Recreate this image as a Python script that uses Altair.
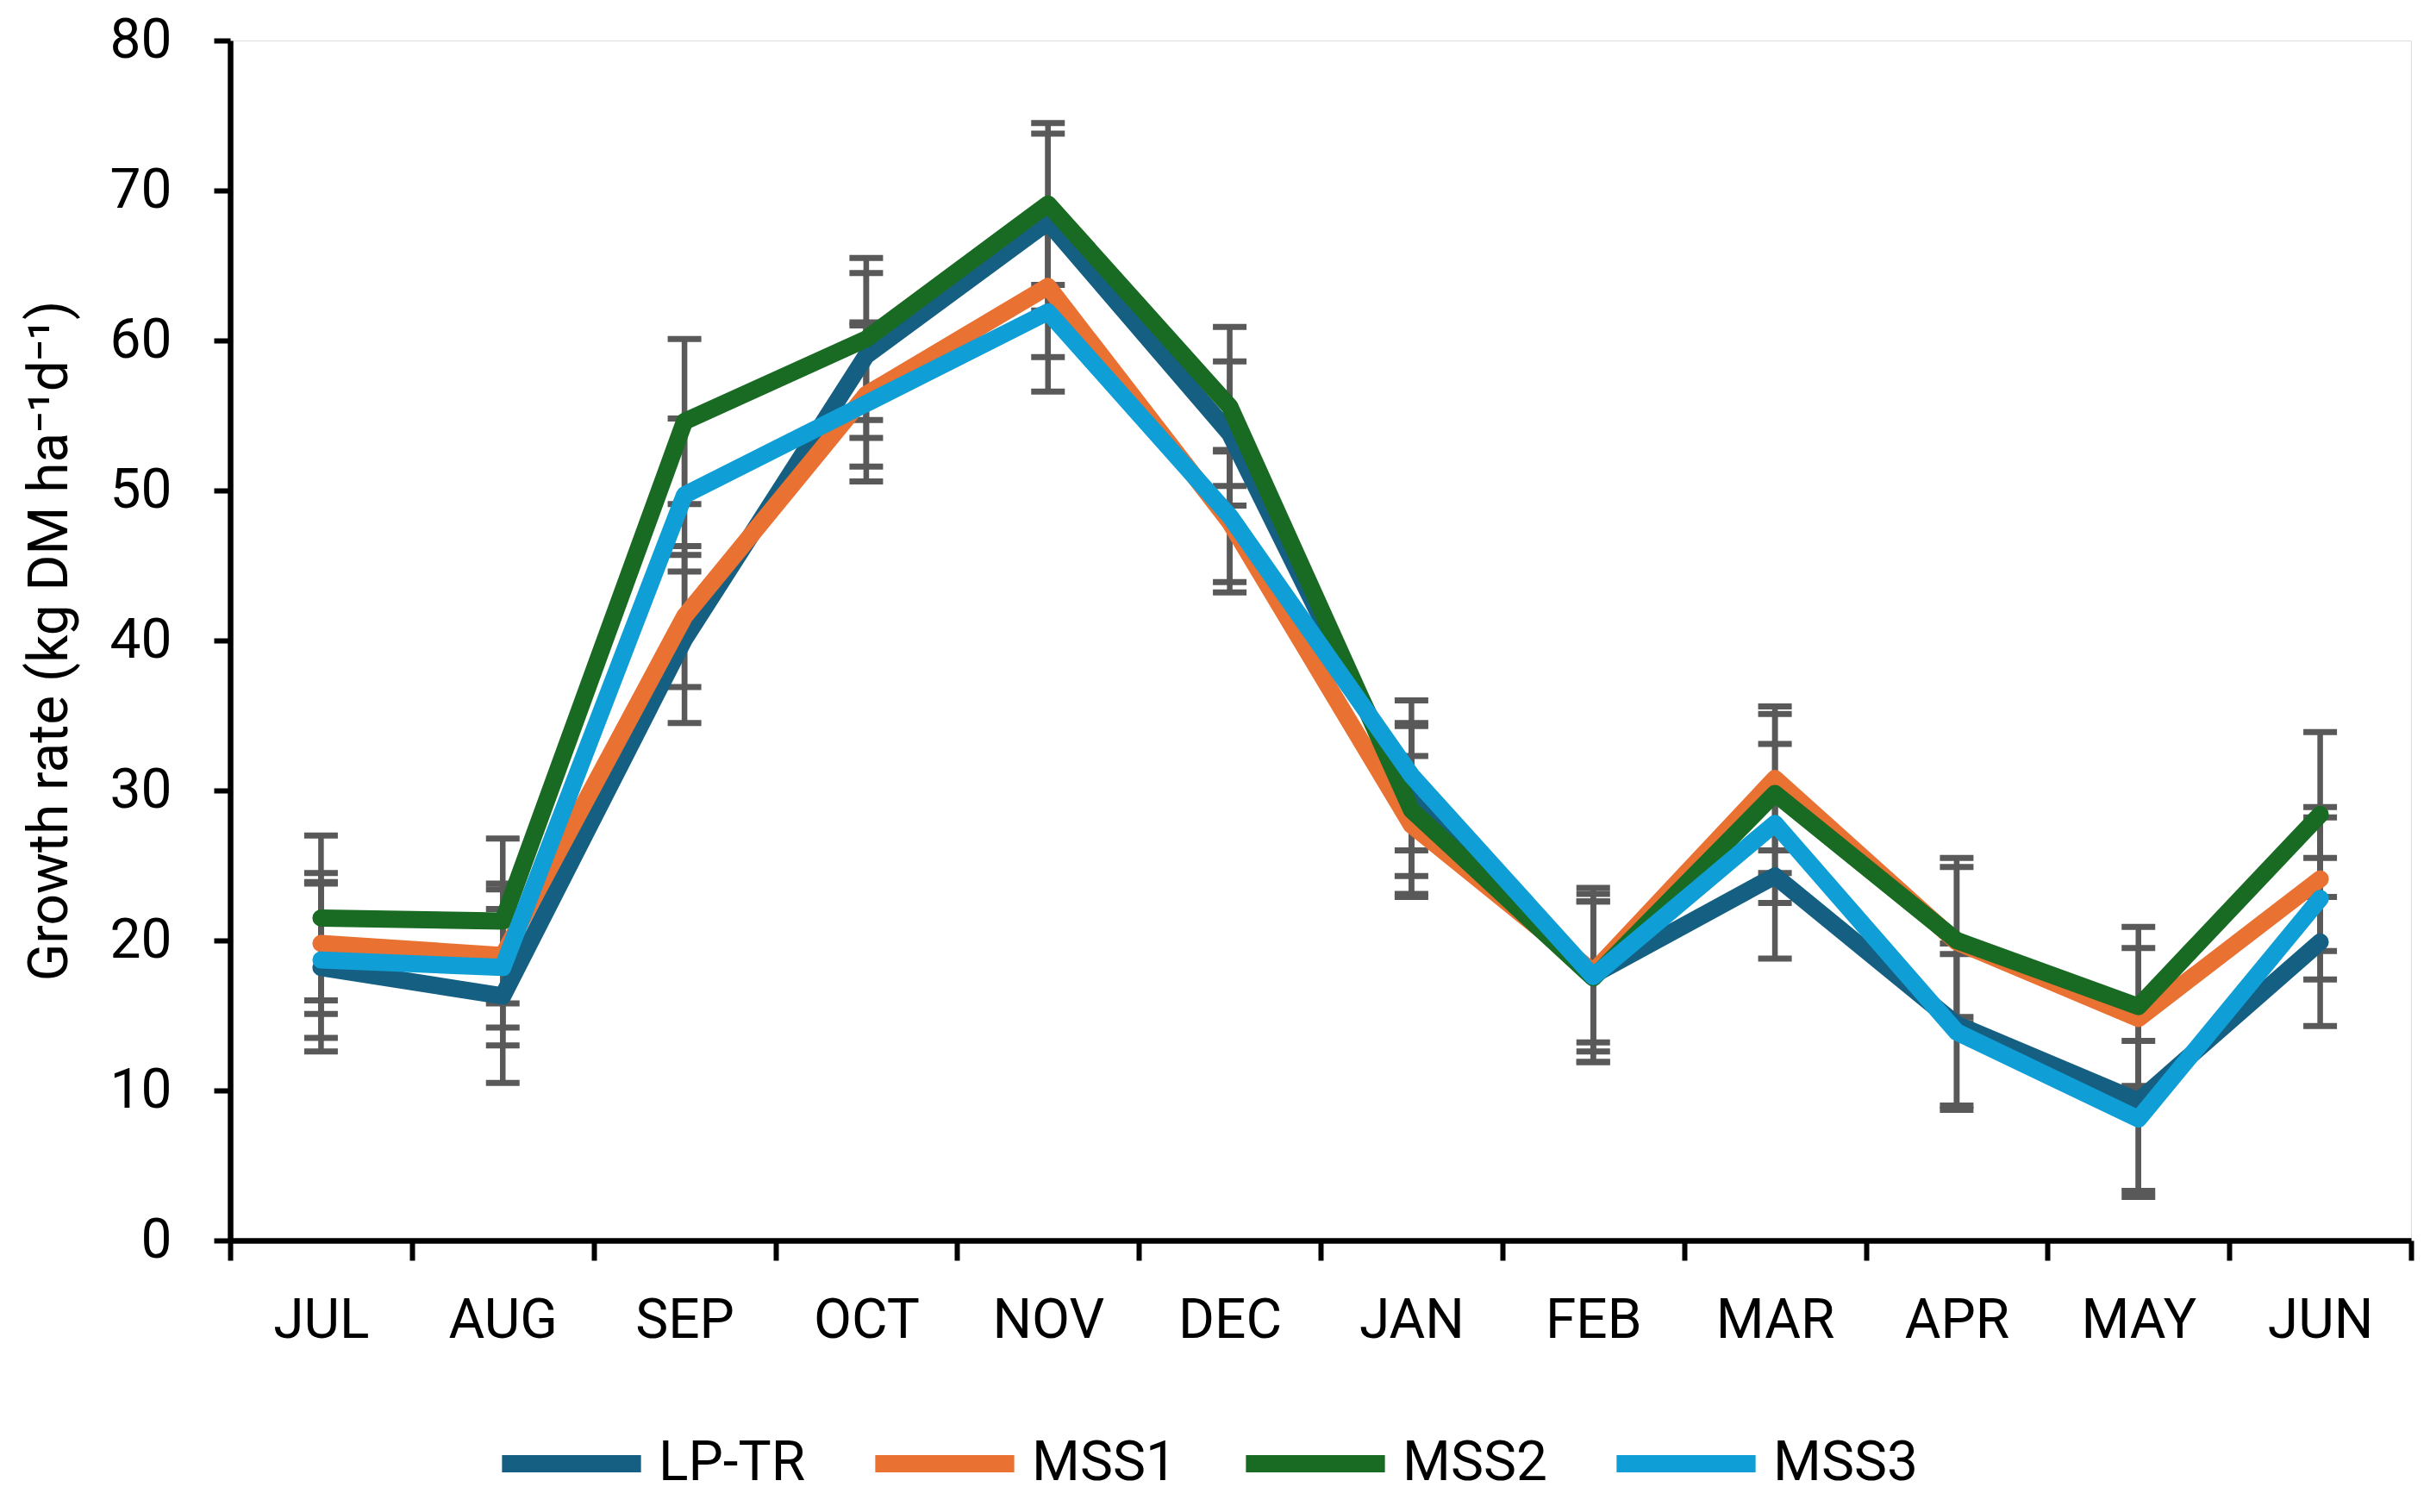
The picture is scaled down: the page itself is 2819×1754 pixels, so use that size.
import altair as alt
import pandas as pd

months = ["JUL", "AUG", "SEP", "OCT", "NOV", "DEC", "JAN", "FEB", "MAR", "APR", "MAY", "JUN"]
series_names = ["LP-TR", "MSS1", "MSS2", "MSS3"]
colors = ["#156082", "#E97132", "#196B24", "#0F9ED5"]

lp_tr = [18.2, 16.3, 40.1, 59.0, 67.9, 53.8, 29.3, 17.7, 24.3, 14.4, 9.3, 19.9]
lp_tr_err = [5.6, 5.8, 5.6, 5.5, 5.9, 4.8, 5.0, 5.8, 5.5, 5.4, 6.0, 5.6]
mss1 = [19.8, 19.0, 41.6, 56.4, 63.6, 47.9, 27.7, 17.9, 30.8, 19.9, 14.8, 24.1]
mss1_err = [4.7, 4.8, 4.7, 4.8, 4.7, 4.7, 4.6, 4.7, 4.8, 5.0, 4.7, 4.8]
mss2 = [21.5, 21.3, 54.6, 60.1, 69.1, 55.6, 28.7, 17.5, 29.8, 20.0, 15.6, 28.4]
mss2_err = [5.5, 5.5, 5.5, 5.4, 5.4, 5.3, 5.8, 5.6, 5.3, 5.5, 5.3, 5.5]
mss3 = [18.7, 18.2, 49.7, 55.8, 61.9, 48.3, 31.0, 17.6, 27.8, 13.9, 8.1, 22.8]
mss3_err = [5.2, 5.2, 5.1, 5.2, 5.3, 4.4, 5.0, 5.0, 5.3, 5.2, 5.2, 5.4]

FONT = "Roboto"
FS = 64
GREY = "#595959"

rows = []
for name, vals, errs in zip(series_names, [lp_tr, mss1, mss2, mss3],
                            [lp_tr_err, mss1_err, mss2_err, mss3_err]):
    for m, v, e in zip(months, vals, errs):
        rows.append({"month": m, "series": name, "value": v,
                     "lo": v - e, "hi": v + e})
df = pd.DataFrame(rows)

x = alt.X(
    "month:N",
    sort=months,
    title=None,
    scale=alt.Scale(paddingInner=0, paddingOuter=0),
    axis=alt.Axis(
        tickBand="extent", tickSize=23, tickWidth=6, tickColor="black",
        domainColor="black", domainWidth=6.5, labelFontSize=FS,
        labelColor="black", labelPadding=38, labelAngle=0, grid=False,
    ),
)
y_scale = alt.Scale(domain=[0, 80], nice=False)

base = alt.Chart(df)

bars = base.mark_rule(color=GREY, strokeWidth=6.5).encode(
    x=x,
    y=alt.Y("lo:Q", scale=y_scale),
    y2="hi:Q",
)
caps_lo = base.mark_tick(color=GREY, size=39, thickness=7, opacity=1).encode(
    x=x, y=alt.Y("lo:Q", scale=y_scale)
)
caps_hi = base.mark_tick(color=GREY, size=39, thickness=7, opacity=1).encode(
    x=x, y=alt.Y("hi:Q", scale=y_scale)
)

lines = base.mark_line(strokeWidth=20, strokeCap="round", strokeJoin="round").encode(
    x=x,
    y=alt.Y(
        "value:Q",
        scale=y_scale,
        title="Growth rate (kg DM ha⁻¹d⁻¹)",
        axis=alt.Axis(
            values=list(range(0, 90, 10)), tickSize=19, tickWidth=6,
            tickColor="black", domainColor="black", domainWidth=6.5,
            labelFontSize=FS, labelColor="black", labelPadding=49,
            titleFontSize=FS, titleFontWeight="normal", titleColor="black",
            titlePadding=37, grid=False,
        ),
    ),
    color=alt.Color(
        "series:N",
        sort=series_names,
        scale=alt.Scale(domain=series_names, range=colors),
        legend=alt.Legend(
            title=None, orient="none", direction="horizontal",
            legendX=305, legendY=1560,
            symbolType="stroke", symbolSize=26000, symbolStrokeWidth=20,
            labelFontSize=FS, labelColor="black", labelOffset=10,
            labelLimit=0, columnPadding=40,
        ),
    ),
    order=alt.Order("month_idx:Q"),
).transform_calculate(
    month_idx="indexof(" + str(months) + ", datum.month)"
)

chart = (
    alt.layer(bars, caps_lo, caps_hi, lines)
    .properties(width=2530, height=1392,
                padding={"left": 18, "top": 7, "right": 5, "bottom": 5})
    .configure_view(stroke=None)
    .configure(font=FONT)
)

chart.save("out.html", embed_options={"renderer": "svg", "actions": False})
